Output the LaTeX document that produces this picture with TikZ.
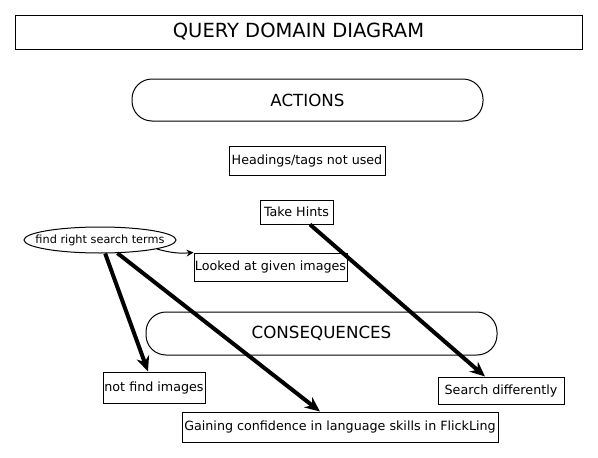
\documentclass[tikz,border=0pt]{standalone}
\usepackage{fontspec}
\setmainfont{DejaVu Sans}
\usetikzlibrary{positioning,arrows.meta,shapes.geometric}

\begin{document}
\begin{tikzpicture}[x=1pt,y=-1pt,auto]
  \tikzstyle{every node}=[font=\fontsize{12.7}{15}\selectfont,inner sep=0pt]
  \tikzstyle{item}=[draw,line width=1pt]
  \tikzstyle{heading}=[draw,line width=1pt,font=\fontsize{19.5}{23}\selectfont]
  \tikzstyle{band}=[heading,rounded corners=20pt,font=\fontsize{16.7}{20}\selectfont]
  \tikzstyle{link}=[line width=4pt,-{Stealth[length=15pt,width=13pt]}]
  \tikzstyle{hint}=[line width=1pt,-{Stealth[length=7pt,width=7pt]}]
  \useasboundingbox (0,0) rectangle (598,458);

  \node[heading,minimum width=567pt,minimum height=34pt] (title) at (298.5,32) {QUERY DOMAIN DIAGRAM};
  \node[band,minimum width=351pt,minimum height=42pt]    (actions) at (307.5,100) {ACTIONS};
  \node[item,minimum width=156pt,minimum height=29pt]    (headings) at (307,160.5) {Headings/tags not used};
  \node[item,minimum width=73pt,minimum height=24pt]     (hints) at (296.5,212) {Take Hints};
  \node[item,ellipse,minimum width=152pt,minimum height=26pt,font=\fontsize{11.3}{13}\selectfont]
                                                         (terms) at (100,240) {\makebox[0pt]{find right search terms}};
  \node[item,minimum width=153pt,minimum height=28pt]    (looked) at (270.5,267) {Looked at given images};
  \node[band,minimum width=351pt,minimum height=43pt]    (conseq) at (321.5,333.5) {CONSEQUENCES};
  \node[item,minimum width=102pt,minimum height=31pt]    (nofind) at (154,387.5) {not find images};
  \node[item,minimum width=126pt,minimum height=27pt]    (differ) at (501,390.5) {Search differently};
  \node[item,minimum width=316pt,minimum height=30pt]    (gaining) at (340,427) {Gaining confidence in language skills in FlickLing};

  \path
  (terms.-9)  edge[hint,bend right=10] (looked.north west)
  (terms.-69) edge[link] ([xshift=-6pt]nofind.north)
  (terms.-37) edge[link] ([xshift=-20pt]gaining.north)
  ([xshift=13.5pt]hints.south) edge[link] ([xshift=-16pt]differ.north);
\end{tikzpicture}
\end{document}
